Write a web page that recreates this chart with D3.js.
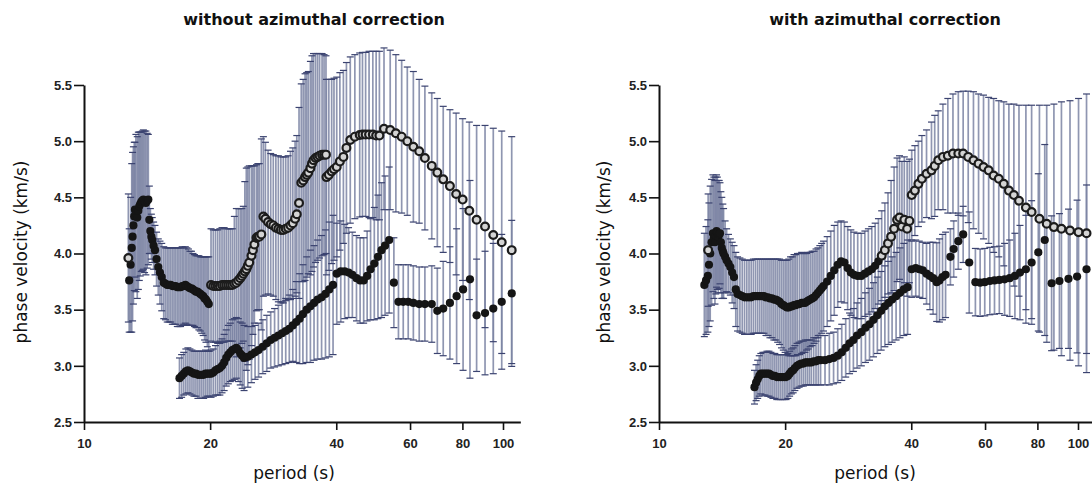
<!DOCTYPE html>
<html>
<head>
<meta charset="utf-8">
<script src="https://cdn.jsdelivr.net/npm/d3@7"></script>
<style>
  body { margin: 0; background: #fff; }
  svg { display: block; }
</style>
</head>
<body>
<div id="chart"></div>
<script>
// rows are [period (s), phase velocity (km/s), error (km/s)]
const xTicks = [10, 20, 40, 60, 80, 100];
const yTicks = [2.5, 3.0, 3.5, 4.0, 4.5, 5.0, 5.5];

// ---- without azimuthal correction ----
const leftSpike = [
  [12.82, 3.76, 0.46], [12.92, 3.9, 0.6], [13.0, 4.05, 0.75], [13.06, 4.15, 0.75],
  [13.12, 4.25, 0.7], [13.18, 4.33, 0.66], [13.23, 4.39, 0.6], [13.3, 4.36, 0.7],
  [13.4, 4.32, 0.72], [13.48, 4.38, 0.7], [13.55, 4.42, 0.66], [13.62, 4.44, 0.64],
  [13.7, 4.46, 0.62], [13.78, 4.47, 0.62], [13.86, 4.48, 0.62], [13.95, 4.46, 0.63],
  [14.05, 4.45, 0.64], [14.15, 4.47, 0.6], [14.24, 4.48, 0.58], [14.32, 4.3, 0.3],
  [14.4, 4.2, 0.2], [14.48, 4.15, 0.2], [14.55, 4.12, 0.2], [14.66, 4.07, 0.21],
  [14.77, 4.03, 0.22], [14.9, 3.95, 0.24], [15.04, 3.88, 0.25], [15.18, 3.83, 0.28],
  [15.33, 3.79, 0.3]
];
const leftMid = [
  [15.5, 3.74, 0.32], [15.65, 3.73, 0.32], [15.8, 3.72, 0.33], [15.95, 3.72, 0.33],
  [16.1, 3.72, 0.33], [16.25, 3.71, 0.34], [16.4, 3.71, 0.34], [16.55, 3.71, 0.34],
  [16.7, 3.70, 0.35], [16.85, 3.70, 0.35], [17.0, 3.70, 0.35], [17.15, 3.71, 0.35],
  [17.3, 3.71, 0.34], [17.45, 3.72, 0.34], [17.6, 3.71, 0.34], [17.75, 3.70, 0.34],
  [17.9, 3.69, 0.33], [18.05, 3.69, 0.33], [18.2, 3.68, 0.32], [18.35, 3.67, 0.32],
  [18.5, 3.66, 0.32], [18.65, 3.66, 0.32], [18.8, 3.65, 0.33], [18.95, 3.64, 0.33],
  [19.1, 3.63, 0.34], [19.25, 3.62, 0.35], [19.4, 3.60, 0.37], [19.55, 3.59, 0.38],
  [19.7, 3.57, 0.4], [19.85, 3.55, 0.42]
];
const leftUpper = [
  [12.76, 3.96, 0.57],
  [20.1, 3.72, 0.5], [20.35, 3.71, 0.5], [20.6, 3.71, 0.5], [20.85, 3.71, 0.5],
  [21.1, 3.71, 0.51], [21.35, 3.72, 0.51], [21.6, 3.72, 0.51], [21.85, 3.72, 0.5],
  [22.1, 3.72, 0.5], [22.35, 3.72, 0.5], [22.6, 3.72, 0.5], [22.85, 3.73, 0.6],
  [23.1, 3.74, 0.66], [23.35, 3.76, 0.64], [23.6, 3.78, 0.62], [23.8, 3.80, 0.6],
  [24.0, 3.82, 0.6], [24.2, 3.84, 0.8], [24.4, 3.86, 0.9], [24.6, 3.89, 0.88],
  [24.8, 3.92, 0.86], [25.1, 3.98, 0.8], [25.3, 4.03, 0.75], [25.5, 4.08, 0.7],
  [25.8, 4.14, 0.65], [26.0, 4.15, 0.65], [26.2, 4.15, 0.65], [26.5, 4.17, 0.85],
  [26.8, 4.33, 0.71], [27.1, 4.31, 0.68], [27.5, 4.28, 0.64], [27.9, 4.26, 0.63],
  [28.3, 4.25, 0.63], [28.7, 4.23, 0.64], [29.1, 4.22, 0.65], [29.5, 4.21, 0.65],
  [29.9, 4.21, 0.65], [30.3, 4.22, 0.64], [30.7, 4.23, 0.64], [31.1, 4.25, 0.66],
  [31.5, 4.27, 0.67], [31.9, 4.31, 0.69], [32.2, 4.35, 0.7], [32.6, 4.45, 0.85],
  [33.0, 4.63, 0.88], [33.35, 4.65, 0.9], [33.7, 4.68, 0.92], [34.0, 4.70, 0.91],
  [34.3, 4.72, 0.9], [34.7, 4.76, 0.95], [35.0, 4.80, 0.96], [35.3, 4.83, 0.95],
  [35.7, 4.85, 0.93], [36.1, 4.86, 0.92], [36.5, 4.87, 0.91], [37.0, 4.88, 0.9],
  [37.4, 4.88, 0.89], [37.8, 4.88, 0.88], [37.9, 4.68, 0.87], [38.4, 4.70, 0.85],
  [39.0, 4.73, 0.82], [39.5, 4.75, 0.81], [40.1, 4.77, 0.8], [40.8, 4.82, 0.79],
  [41.6, 4.86, 0.77], [42.3, 4.94, 0.76], [43.2, 5.01, 0.74], [44.3, 5.04, 0.73],
  [45.5, 5.055, 0.73], [46.2, 5.06, 0.73], [47.0, 5.06, 0.73], [47.9, 5.06, 0.74],
  [48.9, 5.06, 0.74], [49.8, 5.05, 0.75], [50.7, 5.05, 0.75], [52.0, 5.11, 0.72],
  [53.8, 5.10, 0.71], [55.5, 5.07, 0.70], [57.3, 5.04, 0.68], [59.1, 5.00, 0.66],
  [61.1, 4.95, 0.67], [63.1, 4.91, 0.64], [65.1, 4.85, 0.64], [67.6, 4.78, 0.65],
  [69.7, 4.72, 0.66], [72.0, 4.66, 0.65], [74.7, 4.60, 0.68], [77.3, 4.53, 0.72],
  [80.1, 4.48, 0.72], [83.1, 4.38, 0.79], [86.5, 4.30, 0.84], [90.6, 4.24, 0.90],
  [94.8, 4.165, 0.95], [99.3, 4.10, 0.99], [104.9, 4.03, 1.01]
];
const leftLower = [
  [16.9, 2.89, 0.18], [17.1, 2.91, 0.19], [17.3, 2.93, 0.19], [17.5, 2.95, 0.2],
  [17.7, 2.96, 0.2], [17.9, 2.95, 0.2], [18.1, 2.94, 0.2], [18.3, 2.93, 0.2],
  [18.5, 2.93, 0.2], [18.7, 2.92, 0.21], [18.9, 2.92, 0.21], [19.1, 2.92, 0.21],
  [19.3, 2.92, 0.21], [19.5, 2.93, 0.21], [19.7, 2.93, 0.2], [19.9, 2.93, 0.2],
  [20.1, 2.93, 0.21], [20.35, 2.94, 0.21], [20.6, 2.96, 0.22], [20.85, 2.97, 0.23],
  [21.1, 2.98, 0.24], [21.35, 3.0, 0.24], [21.6, 3.03, 0.25], [21.85, 3.07, 0.25],
  [22.1, 3.10, 0.26], [22.35, 3.12, 0.26], [22.6, 3.14, 0.27], [22.85, 3.15, 0.27],
  [23.1, 3.16, 0.27], [23.35, 3.14, 0.28], [23.6, 3.11, 0.28], [23.85, 3.09, 0.29],
  [24.1, 3.07, 0.29], [24.6, 3.08, 0.27], [25.1, 3.10, 0.25], [25.6, 3.12, 0.24],
  [26.1, 3.14, 0.24], [26.7, 3.17, 0.24], [27.3, 3.20, 0.25], [27.9, 3.23, 0.25],
  [28.5, 3.25, 0.26], [29.1, 3.27, 0.27], [29.7, 3.29, 0.28], [30.3, 3.31, 0.29],
  [30.9, 3.33, 0.3], [31.5, 3.36, 0.32], [32.1, 3.39, 0.36], [32.7, 3.42, 0.4],
  [33.3, 3.46, 0.44], [34.0, 3.50, 0.47], [34.7, 3.53, 0.5], [35.4, 3.56, 0.51],
  [36.1, 3.59, 0.53], [36.9, 3.61, 0.55], [37.7, 3.64, 0.57], [38.5, 3.68, 0.6],
  [39.3, 3.72, 0.62], [40.1, 3.82, 0.45], [41.0, 3.84, 0.45], [41.9, 3.84, 0.42],
  [42.8, 3.83, 0.4], [43.7, 3.81, 0.38], [44.7, 3.78, 0.38], [45.6, 3.76, 0.38],
  [46.5, 3.76, 0.38], [47.4, 3.80, 0.4], [48.3, 3.86, 0.45], [49.3, 3.91, 0.5],
  [50.3, 3.97, 0.55], [51.3, 4.03, 0.6], [52.3, 4.07, 0.62], [53.5, 4.12, 0.65]
];
const leftTail = [
  [54.9, 3.74, 0.4], [56.3, 3.57, 0.33], [57.8, 3.57, 0.33], [59.4, 3.57, 0.33],
  [61.1, 3.56, 0.33], [63.1, 3.55, 0.33], [65.1, 3.55, 0.33], [67.6, 3.55, 0.34],
  [69.7, 3.49, 0.38], [72.0, 3.51, 0.42], [74.7, 3.56, 0.5], [77.5, 3.62, 0.6],
  [80.3, 3.68, 0.72], [83.4, 3.77, 0.88], [86.5, 3.45, 0.5], [90.6, 3.47, 0.55],
  [94.8, 3.51, 0.58], [99.3, 3.57, 0.6], [104.9, 3.645, 0.65]
];

// ---- with azimuthal correction ----
const rightSpike = [
  [12.83, 3.72, 0.46], [12.95, 3.76, 0.48], [13.08, 3.80, 0.5], [13.16, 3.9, 0.55],
  [13.25, 4.0, 0.6], [13.35, 4.1, 0.56], [13.45, 4.18, 0.52], [13.52, 4.14, 0.54],
  [13.6, 4.1, 0.55], [13.66, 4.16, 0.52], [13.72, 4.2, 0.5], [13.78, 4.18, 0.5],
  [13.85, 4.15, 0.5], [13.92, 4.17, 0.48], [13.98, 4.18, 0.45], [14.05, 4.1, 0.45],
  [14.12, 4.05, 0.45], [14.2, 4.02, 0.42], [14.26, 4.0, 0.4], [14.38, 3.97, 0.32],
  [14.5, 3.94, 0.28], [14.65, 3.91, 0.26], [14.8, 3.88, 0.25], [14.95, 3.83, 0.27],
  [15.1, 3.79, 0.28]
];
const rightMid = [
  [15.25, 3.68, 0.33], [15.4, 3.64, 0.33], [15.6, 3.63, 0.33], [15.8, 3.62, 0.33],
  [16.0, 3.61, 0.33], [16.2, 3.61, 0.33], [16.4, 3.61, 0.33], [16.6, 3.61, 0.33],
  [16.8, 3.62, 0.33], [17.0, 3.62, 0.33], [17.2, 3.62, 0.33], [17.4, 3.62, 0.33],
  [17.6, 3.62, 0.33], [17.8, 3.62, 0.33], [18.0, 3.61, 0.34], [18.2, 3.61, 0.34],
  [18.4, 3.60, 0.35], [18.6, 3.60, 0.35], [18.8, 3.59, 0.36], [19.0, 3.59, 0.36],
  [19.2, 3.58, 0.37], [19.4, 3.57, 0.38], [19.6, 3.55, 0.39], [19.8, 3.54, 0.4],
  [20.0, 3.53, 0.41], [20.2, 3.52, 0.42], [20.4, 3.52, 0.43], [20.6, 3.53, 0.44],
  [20.8, 3.53, 0.44], [21.0, 3.54, 0.45], [21.2, 3.54, 0.45], [21.4, 3.55, 0.45],
  [21.65, 3.55, 0.45], [21.9, 3.56, 0.45], [22.1, 3.56, 0.44], [22.3, 3.56, 0.44],
  [22.5, 3.57, 0.43], [22.7, 3.58, 0.43], [22.95, 3.59, 0.42], [23.2, 3.60, 0.42],
  [23.45, 3.61, 0.41], [23.7, 3.63, 0.41], [23.95, 3.65, 0.4], [24.2, 3.67, 0.4],
  [24.45, 3.69, 0.4], [24.7, 3.71, 0.4], [25.2, 3.75, 0.4], [25.7, 3.80, 0.4],
  [26.2, 3.85, 0.4], [26.7, 3.90, 0.38], [27.2, 3.93, 0.36], [27.7, 3.92, 0.36],
  [28.2, 3.87, 0.37], [28.7, 3.83, 0.38], [29.2, 3.81, 0.38], [29.8, 3.80, 0.38],
  [30.4, 3.80, 0.38], [31.0, 3.82, 0.38], [31.6, 3.84, 0.38], [32.2, 3.86, 0.38],
  [32.8, 3.89, 0.38], [33.4, 3.93, 0.38]
];
const rightUpper = [
  [13.1, 4.03, 0.5],
  [34.0, 3.98, 0.4], [34.6, 4.03, 0.42], [35.2, 4.09, 0.45], [35.8, 4.15, 0.5],
  [36.4, 4.22, 0.55], [37.0, 4.30, 0.55], [37.5, 4.32, 0.55], [38.0, 4.24, 0.58],
  [38.5, 4.30, 0.56], [39.1, 4.22, 0.6], [39.6, 4.29, 0.55],
  [40.1, 4.52, 0.40], [40.8, 4.56, 0.40], [41.6, 4.62, 0.38], [42.4, 4.665, 0.385],
  [43.5, 4.71, 0.39], [44.7, 4.74, 0.43], [45.5, 4.78, 0.45], [46.4, 4.83, 0.44],
  [47.6, 4.86, 0.47], [48.9, 4.87, 0.51], [50.3, 4.89, 0.53], [51.8, 4.89, 0.55],
  [53.2, 4.89, 0.555], [54.7, 4.86, 0.585], [56.3, 4.83, 0.61], [57.9, 4.80, 0.62],
  [59.5, 4.77, 0.64], [61.2, 4.74, 0.65], [62.9, 4.695, 0.685], [64.7, 4.665, 0.695],
  [66.5, 4.62, 0.73], [68.4, 4.56, 0.77], [70.3, 4.52, 0.81], [72.3, 4.47, 0.85],
  [75.1, 4.41, 0.91], [77.5, 4.37, 0.95], [80.9, 4.31, 1.01], [84.2, 4.265, 1.055],
  [87.6, 4.235, 1.095], [91.3, 4.22, 1.13], [95.7, 4.205, 1.155], [100.3, 4.19, 1.19],
  [104.8, 4.18, 1.24]
];
const rightLower = [
  [16.9, 2.81, 0.15], [17.05, 2.85, 0.16], [17.2, 2.88, 0.17], [17.35, 2.91, 0.18],
  [17.5, 2.93, 0.18], [17.7, 2.93, 0.19], [17.9, 2.93, 0.19], [18.1, 2.93, 0.2],
  [18.3, 2.93, 0.2], [18.5, 2.92, 0.2], [18.7, 2.91, 0.2], [18.9, 2.91, 0.2],
  [19.1, 2.90, 0.2], [19.3, 2.90, 0.2], [19.5, 2.90, 0.2], [19.7, 2.90, 0.2],
  [19.9, 2.90, 0.2], [20.1, 2.90, 0.2], [20.3, 2.91, 0.2], [20.5, 2.93, 0.2],
  [20.7, 2.95, 0.2], [20.9, 2.96, 0.2], [21.1, 2.98, 0.2], [21.35, 3.0, 0.2],
  [21.6, 3.01, 0.2], [21.85, 3.02, 0.2], [22.1, 3.02, 0.2], [22.35, 3.03, 0.2],
  [22.6, 3.03, 0.2], [22.85, 3.03, 0.2], [23.1, 3.03, 0.2], [23.4, 3.04, 0.21],
  [23.7, 3.04, 0.21], [24.0, 3.05, 0.22], [24.3, 3.05, 0.22], [24.9, 3.05, 0.22],
  [25.5, 3.06, 0.23], [26.1, 3.07, 0.23], [26.7, 3.09, 0.24], [27.3, 3.12, 0.25],
  [27.9, 3.16, 0.26], [28.5, 3.20, 0.27], [29.1, 3.23, 0.28], [29.7, 3.27, 0.29],
  [30.4, 3.30, 0.3], [31.1, 3.34, 0.31], [31.8, 3.37, 0.32], [32.5, 3.41, 0.33],
  [33.2, 3.45, 0.34], [33.9, 3.49, 0.35], [34.6, 3.53, 0.36], [35.3, 3.56, 0.37],
  [36.0, 3.59, 0.38], [36.8, 3.62, 0.39], [37.6, 3.65, 0.4], [38.4, 3.68, 0.41],
  [39.2, 3.70, 0.42]
];
const rightDip = [
  [40.1, 3.86, 0.25], [41.0, 3.87, 0.25], [41.8, 3.86, 0.25], [42.6, 3.85, 0.25],
  [43.5, 3.82, 0.27], [44.3, 3.80, 0.3], [45.1, 3.78, 0.32], [46.0, 3.745, 0.35],
  [46.7, 3.76, 0.37], [47.5, 3.79, 0.38], [48.3, 3.81, 0.38],
  [49.6, 3.97, 0.25], [50.5, 4.04, 0.25], [51.8, 4.11, 0.25], [53.2, 4.17, 0.25],
  [55.0, 3.92, 0.45]
];
const rightTail = [
  [56.9, 3.745, 0.3], [58.4, 3.74, 0.3], [59.9, 3.745, 0.3], [61.6, 3.755, 0.3],
  [63.2, 3.76, 0.3], [64.9, 3.765, 0.3], [66.8, 3.77, 0.32], [68.7, 3.78, 0.34],
  [70.7, 3.80, 0.38], [72.7, 3.83, 0.42], [75.1, 3.86, 0.48], [77.5, 3.92, 0.55],
  [80.4, 4.01, 0.7], [83.3, 4.12, 0.85],
  [86.5, 3.735, 0.6], [90.3, 3.755, 0.6], [94.9, 3.775, 0.62], [99.5, 3.795, 0.68],
  [104.8, 3.86, 0.75]
];

const width = 1092, height = 483;
const decade = 419;            // px per decade on the period axis
const yTop = 85, yBottom = 422;

const panels = [
  {
    title: "without azimuthal correction", titleX: 314, x0: 84, labelX: 294, yLabelX: 27,
    filled: [leftSpike, leftMid, leftLower, leftTail], open: [leftUpper]
  },
  {
    title: "with azimuthal correction", titleX: 885, x0: 659, labelX: 875, yLabelX: 610,
    filled: [rightSpike, rightMid, rightLower, rightDip, rightTail], open: [rightUpper]
  }
];

const svg = d3.select("#chart")
  .append("svg")
  .attr("width", width)
  .attr("height", height)
  .style("font-family", "'DejaVu Sans', sans-serif");

panels.forEach(p => {
  const x = d3.scaleLog().domain([10, 110]).range([p.x0, p.x0 + decade * Math.log10(11)]);
  const y = d3.scaleLinear().domain([2.5, 5.5]).range([yBottom, yTop]);
  const g = svg.append("g");

  // error bars first, markers on top
  const all = p.filled.concat(p.open).flat();
  const gBars = g.append("g");
  gBars.selectAll("line.bar")
    .data(all)
    .join("line")
    .attr("class", "bar")
    .attr("x1", d => x(d[0])).attr("x2", d => x(d[0]))
    .attr("y1", d => y(d[1] - d[2])).attr("y2", d => y(d[1] + d[2]))
    .attr("stroke", "#7c84a4")
    .attr("stroke-width", 1.7)
    .attr("opacity", 0.85);

  const caps = all.flatMap(d => [[d[0], d[1] - d[2]], [d[0], d[1] + d[2]]]);
  gBars.selectAll("line.cap")
    .data(caps)
    .join("line")
    .attr("class", "cap")
    .attr("x1", d => x(d[0]) - 3.5).attr("x2", d => x(d[0]) + 3.5)
    .attr("y1", d => y(d[1])).attr("y2", d => y(d[1]))
    .attr("stroke", "#3b4370")
    .attr("stroke-width", 1.2);

  g.append("g").selectAll("circle")
    .data(p.filled.flat())
    .join("circle")
    .attr("cx", d => x(d[0]))
    .attr("cy", d => y(d[1]))
    .attr("r", 4.1)
    .attr("fill", "#151515");

  g.append("g").selectAll("circle")
    .data(p.open.flat())
    .join("circle")
    .attr("cx", d => x(d[0]))
    .attr("cy", d => y(d[1]))
    .attr("r", 3.9)
    .attr("fill", "#d4d4d4")
    .attr("stroke", "#1c1c1c")
    .attr("stroke-width", 2.2);

  // axes
  const gx = g.append("g")
    .attr("transform", `translate(0,${yBottom})`)
    .call(d3.axisBottom(x).tickValues(xTicks).tickFormat(d3.format("d"))
      .tickSize(8).tickPadding(9).tickSizeOuter(0));
  const gy = g.append("g")
    .attr("transform", `translate(${p.x0},0)`)
    .call(d3.axisLeft(y).tickValues(yTicks).tickFormat(d3.format(".1f"))
      .tickSize(10).tickPadding(2).tickSizeOuter(0));

  [gx, gy].forEach(a => {
    a.select(".domain").attr("stroke", "#111").attr("stroke-width", 2);
    a.selectAll(".tick line").attr("stroke", "#111").attr("stroke-width", 1.6);
    a.selectAll(".tick text")
      .attr("fill", "#222")
      .style("font-family", "'Liberation Sans', Arial, sans-serif")
      .style("font-weight", "bold")
      .style("font-size", "13px");
  });

  // titles and labels
  g.append("text")
    .attr("x", p.titleX).attr("y", 25)
    .attr("text-anchor", "middle")
    .style("font-weight", "bold")
    .style("font-size", "16px")
    .attr("fill", "#111")
    .text(p.title);

  g.append("text")
    .attr("x", p.labelX).attr("y", 479)
    .attr("text-anchor", "middle")
    .style("font-size", "17px")
    .attr("fill", "#111")
    .text("period (s)");

  g.append("text")
    .attr("transform", `translate(${p.yLabelX},252) rotate(-90)`)
    .attr("text-anchor", "middle")
    .style("font-size", "17px")
    .attr("fill", "#111")
    .text("phase velocity (km/s)");
});
</script>
</body>
</html>
